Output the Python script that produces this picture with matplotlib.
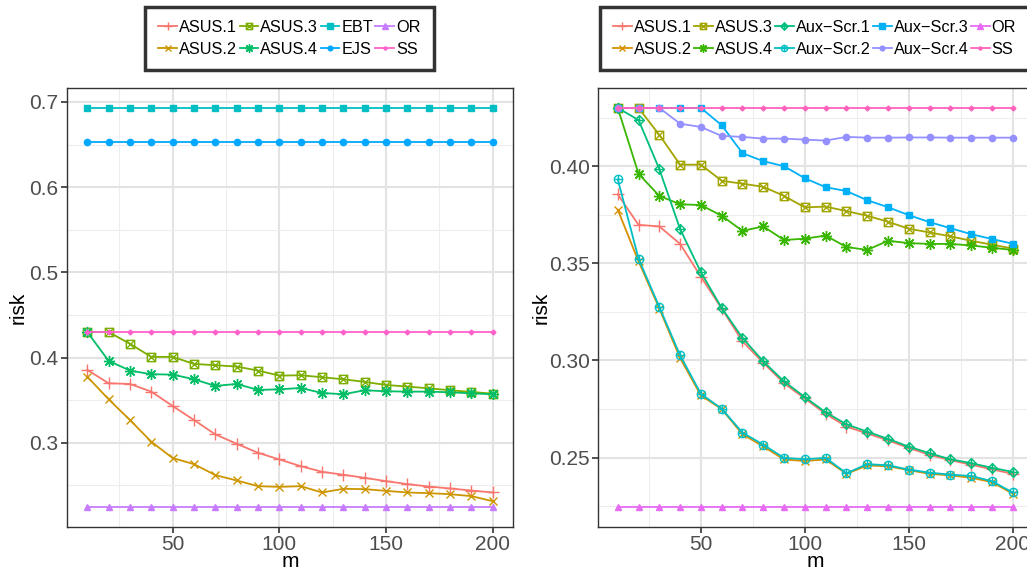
import numpy as np
import matplotlib
matplotlib.use("Agg")
import matplotlib.pyplot as plt
from matplotlib.path import Path
from matplotlib.ticker import MultipleLocator, FormatStrFormatter

plt.rcParams["font.family"] = ["Liberation Sans", "DejaVu Sans"]

# --- data ---
m = [10, 20, 30, 40, 50, 60, 70, 80, 90, 100, 110, 120, 130, 140, 150, 160, 170, 180, 190, 200]

asus1 = [0.3855, 0.3698, 0.3690, 0.3600, 0.3431, 0.3267, 0.3098, 0.2988, 0.2882, 0.2804,
         0.2725, 0.2659, 0.2624, 0.2588, 0.2549, 0.2514, 0.2486, 0.2463, 0.2439, 0.2416]
asus2 = [0.3776, 0.3510, 0.3267, 0.3012, 0.2820, 0.2749, 0.2620, 0.2557, 0.2490, 0.2482,
         0.2490, 0.2416, 0.2459, 0.2455, 0.2435, 0.2416, 0.2408, 0.2396, 0.2373, 0.2314]
asus3 = [0.4300, 0.4300, 0.4161, 0.4008, 0.4008, 0.3925, 0.3910, 0.3894, 0.3847, 0.3788,
         0.3792, 0.3769, 0.3745, 0.3714, 0.3678, 0.3659, 0.3639, 0.3616, 0.3596, 0.3576]
asus4 = [0.4300, 0.3961, 0.3847, 0.3804, 0.3800, 0.3745, 0.3667, 0.3690, 0.3620, 0.3627,
         0.3643, 0.3584, 0.3569, 0.3616, 0.3604, 0.3600, 0.3600, 0.3592, 0.3580, 0.3569]
ebt = [0.693, 0.693, 0.693, 0.693, 0.693, 0.693, 0.693, 0.693, 0.693, 0.693,
       0.693, 0.693, 0.693, 0.693, 0.693, 0.693, 0.693, 0.693, 0.693, 0.693]
ejs = [0.653, 0.653, 0.653, 0.653, 0.653, 0.653, 0.653, 0.653, 0.653, 0.653,
       0.653, 0.653, 0.653, 0.653, 0.653, 0.653, 0.653, 0.653, 0.653, 0.653]
orc = [0.2245, 0.2245, 0.2245, 0.2245, 0.2245, 0.2245, 0.2245, 0.2245, 0.2245, 0.2245,
       0.2245, 0.2245, 0.2245, 0.2245, 0.2245, 0.2245, 0.2245, 0.2245, 0.2245, 0.2245]
ss = [0.430, 0.430, 0.430, 0.430, 0.430, 0.430, 0.430, 0.430, 0.430, 0.430,
      0.430, 0.430, 0.430, 0.430, 0.430, 0.430, 0.430, 0.430, 0.430, 0.430]

aux1 = [0.4300, 0.4238, 0.3985, 0.3676, 0.3454, 0.3270, 0.3116, 0.2995, 0.2892, 0.2811,
        0.2733, 0.2671, 0.2633, 0.2596, 0.2556, 0.2522, 0.2491, 0.2471, 0.2447, 0.2426]
aux2 = [0.3933, 0.3524, 0.3275, 0.3026, 0.2828, 0.2751, 0.2628, 0.2566, 0.2498, 0.2491,
        0.2498, 0.2419, 0.2466, 0.2460, 0.2438, 0.2422, 0.2412, 0.2405, 0.2378, 0.2320]
aux3 = [0.4300, 0.4300, 0.4300, 0.4300, 0.4300, 0.4211, 0.4067, 0.4026, 0.4000, 0.3938,
        0.3892, 0.3872, 0.3825, 0.3789, 0.3748, 0.3712, 0.3681, 0.3650, 0.3625, 0.3601]
aux4 = [0.4300, 0.4300, 0.4300, 0.4219, 0.4202, 0.4156, 0.4151, 0.4142, 0.4142, 0.4137,
        0.4132, 0.4151, 0.4147, 0.4147, 0.4148, 0.4148, 0.4147, 0.4147, 0.4147, 0.4147]

# --- ggplot-like marker shapes ---
def compound(*parts):
    return Path.make_compound_path(*parts)

sq = Path([(-1, -1), (1, -1), (1, 1), (-1, 1), (-1, -1)],
          [Path.MOVETO, Path.LINETO, Path.LINETO, Path.LINETO, Path.CLOSEPOLY])
dia = Path([(0, 1), (1, 0), (0, -1), (-1, 0), (0, 1)],
           [Path.MOVETO, Path.LINETO, Path.LINETO, Path.LINETO, Path.CLOSEPOLY])
xcross = Path([(-1, -1), (1, 1), (-1, 1), (1, -1)],
              [Path.MOVETO, Path.LINETO, Path.MOVETO, Path.LINETO])
pcross = Path([(-1, 0), (1, 0), (0, -1), (0, 1)],
              [Path.MOVETO, Path.LINETO, Path.MOVETO, Path.LINETO])
square_x = compound(sq, xcross)
diamond_plus = compound(dia, pcross)
circle_plus = compound(Path.unit_circle(), pcross)

# (label, values, colour, marker, size, open)
left_series = [
    ("ASUS.1", asus1, "#F8766D", "+", 8, True),
    ("ASUS.2", asus2, "#CD9600", "x", 6, True),
    ("ASUS.3", asus3, "#7CAE00", square_x, 6, True),
    ("ASUS.4", asus4, "#00BE67", (8, 2, 0), 8, True),
    ("EBT", ebt, "#00BFC4", "s", 5, False),
    ("EJS", ejs, "#00A9FF", "o", 4.5, False),
    ("OR", orc, "#C77CFF", "^", 5, False),
    ("SS", ss, "#FF61CC", "D", 2.5, False),
]
right_series = [
    ("ASUS.1", asus1, "#F8766D", "+", 8, True),
    ("ASUS.2", asus2, "#D89000", "x", 6, True),
    ("ASUS.3", asus3, "#A3A500", square_x, 6, True),
    ("ASUS.4", asus4, "#39B600", (8, 2, 0), 8, True),
    ("Aux\u2212Scr.1", aux1, "#00BF7D", diamond_plus, 7, True),
    ("Aux\u2212Scr.2", aux2, "#00BFC4", circle_plus, 6, True),
    ("Aux\u2212Scr.3", aux3, "#00B0F6", "s", 5, False),
    ("Aux\u2212Scr.4", aux4, "#9590FF", "o", 4.5, False),
    ("OR", orc, "#E76BF3", "^", 5, False),
    ("SS", ss, "#FF62BC", "D", 2.5, False),
]

W, H = 1027, 571
fig = plt.figure(figsize=(W / 100, H / 100), dpi=100)

ax_l = fig.add_axes([67 / W, 44 / H, 446 / W, 439 / H])
ax_r = fig.add_axes([598 / W, 44 / H, 434.5 / W, 439 / H])


def draw_panel(ax, series, ymajor, ymin_step, fmt, legend_cx, ncol, ylab_x):
    handles = []
    for label, vals, col, mk, ms, hollow in series:
        kw = dict(color=col, lw=1.3, marker=mk, markersize=ms, markeredgewidth=1.0)
        if hollow:
            kw["markerfacecolor"] = "none"
        h, = ax.plot(m, vals, label=label, **kw)
        handles.append(h)

    allv = np.concatenate([np.asarray(s[1]) for s in series])
    lo, hi = allv.min(), allv.max()
    pad = (hi - lo) * 0.05
    ax.set_ylim(lo - pad, hi + pad)
    ax.set_xlim(0.5, 209.5)

    ax.xaxis.set_major_locator(MultipleLocator(50))
    ax.xaxis.set_minor_locator(MultipleLocator(25))
    ax.yaxis.set_major_locator(MultipleLocator(ymajor))
    ax.yaxis.set_minor_locator(MultipleLocator(ymin_step))
    ax.yaxis.set_major_formatter(FormatStrFormatter(fmt))

    ax.grid(True, which="major", color="#E3E3E3", lw=1.5)
    ax.grid(True, which="minor", color="#EDEDED", lw=0.8)
    ax.set_axisbelow(True)
    for sp in ax.spines.values():
        sp.set_color("#333333")
        sp.set_linewidth(1.0)
    ax.tick_params(which="major", length=4, width=1.2, color="#333333",
                   labelsize=15, labelcolor="#4D4D4D", pad=2)
    ax.tick_params(which="minor", length=0)

    ax.set_xlabel("m", fontsize=15)
    ax.set_ylabel("risk", fontsize=15)
    ax.xaxis.set_label_coords(0.5, -0.058)
    ax.yaxis.set_label_coords(ylab_x, 0.5)

    leg = fig.legend(handles=handles, loc="upper center",
                     bbox_to_anchor=(legend_cx / W, 1 - 7 / H), ncol=ncol,
                     fontsize=11.7, frameon=True, fancybox=False,
                     handlelength=1.15, handletextpad=0.12, columnspacing=0.15,
                     labelspacing=0.4, borderpad=0.8, borderaxespad=0)
    leg.get_frame().set_edgecolor("black")
    leg.get_frame().set_linewidth(2.5)
    for lh in leg.legend_handles:
        lh.set_markersize(lh.get_markersize() * 0.75)


draw_panel(ax_l, left_series, 0.1, 0.05, "%.1f", 289.5, 4, -0.089)
draw_panel(ax_r, right_series, 0.05, 0.025, "%.2f", 814.5, 5, -0.11)

fig.savefig("out.png", dpi=100)
